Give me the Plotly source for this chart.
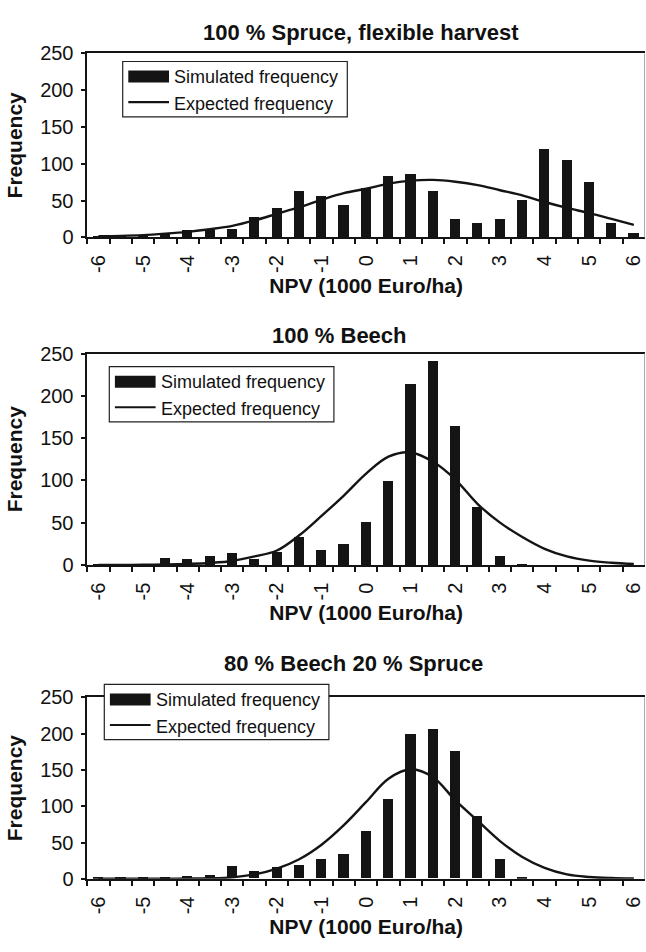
import plotly.graph_objects as go

# ---------------- data ----------------
npv = [-6, -5.5, -5, -4.5, -4, -3.5, -3, -2.5, -2, -1.5, -1, -0.5, 0,
       0.5, 1, 1.5, 2, 2.5, 3, 3.5, 4, 4.5, 5, 5.5, 6]
tick_vals = [-6, -5, -4, -3, -2, -1, 0, 1, 2, 3, 4, 5, 6]
tick_text = ["-6", "-5", "-4", "-3", "-2", "-1", "0", "1", "2", "3", "4", "5", "6"]
y_ticks = [0, 50, 100, 150, 200, 250]

titles = ["100 % Spruce, flexible harvest", "100 % Beech", "80 % Beech 20 % Spruce"]

sim_spruce = [2, 1, 1, 4, 9, 10, 11, 27, 40, 62, 56, 44, 66,
              83, 85, 63, 25, 19, 24, 51, 119, 105, 75, 19, 6]
exp_spruce = [1.5, 2, 3, 5, 7.5, 11, 15.5, 23, 32, 41, 51, 60, 66,
              73, 77, 78, 75.5, 71, 64, 57, 48, 40, 33, 25, 17]

sim_beech = [1, 2, 2, 9, 8, 11, 14, 8, 15.5, 34, 18, 25, 51.5,
             100, 214, 242, 165, 69, 11, 1, 0, 0, 0, 0, 0]
exp_beech = [0, 0, 0.2, 0.5, 1.2, 2.3, 4.6, 10, 17, 35, 58, 82, 108,
             128, 133, 122, 101, 72, 50, 33, 19, 10, 5, 2.5, 1]

sim_mix = [0.5, 1, 1, 1, 3.5, 5, 17.5, 10, 15, 19, 26, 33.5, 65.5,
           109, 199.5, 206, 176, 86.5, 27, 1, 0, 0, 0, 0, 0]
exp_mix = [0, 0, 0.1, 0.2, 0.3, 0.7, 2, 6, 14, 27, 47, 74, 106,
           138, 151, 140, 108, 80, 52, 30, 15, 6, 2.5, 1, 0.3]

sims = [sim_spruce, sim_beech, sim_mix]
exps = [exp_spruce, exp_beech, exp_mix]

# ---------------- layout geometry (pixels) ----------------
W, H = 646, 952
LEFT, RIGHT = 87.3, 645.0
panels = [
    dict(top=43.3, bottom=231.7, tx=361.4, ty=21.7, lx=122.7, ly=51.7),
    dict(top=350.7, bottom=567.0, tx=339.4, ty=331.7, lx=109.3, ly=364.0),
    dict(top=702.7, bottom=888.3, tx=353.0, ty=668.0, lx=104.3, ly=689.3),
]
LEG_W, LEG_H = 224.6, 56.6

def px(x):
    return x / W

def py(y):
    return 1 - y / H

FONT = "Liberation Sans, Arial, sans-serif"
INK = "#141414"
TXT = "#111111"
edges = [v - 0.25 for v in npv]
xr = [npv[0] - 0.25, npv[-1] + 0.25]

fig = go.Figure()
shapes = []
annotations = []
layout_axes = {}

for i in range(3):
    n = i + 1
    xs = "x" if n == 1 else f"x{n}"
    ys = "y" if n == 1 else f"y{n}"
    xkey = "xaxis" if n == 1 else f"xaxis{n}"
    ykey = "yaxis" if n == 1 else f"yaxis{n}"
    p = panels[i]

    fig.add_trace(go.Bar(x=npv, y=sims[i], width=0.228, name="Simulated frequency",
                         marker=dict(color=INK, line=dict(width=0)),
                         xaxis=xs, yaxis=ys, showlegend=False))
    fig.add_trace(go.Scatter(x=npv, y=exps[i], mode="lines", name="Expected frequency",
                             line=dict(color=INK, width=2.4, shape="spline", smoothing=1),
                             xaxis=xs, yaxis=ys, showlegend=False))

    dom_x = [px(LEFT), px(RIGHT)]
    dom_y = [py(p["bottom"]), py(p["top"])]

    layout_axes[xkey] = dict(
        domain=dom_x, anchor=ys, range=xr, tickmode="array",
        tickvals=tick_vals, ticktext=tick_text, ticks="", tickangle=-90,
        ticklabelstandoff=8,
        tickfont=dict(family=FONT, size=20, color=TXT),
        showline=True, linecolor=INK, linewidth=1.6, mirror=True,
        showgrid=False, zeroline=False, fixedrange=True,
        minor=dict(tickmode="array", tickvals=edges, ticks="outside",
                   ticklen=5, tickwidth=1.5, tickcolor=INK, showgrid=False),
        title=dict(text="NPV (1000 Euro/ha)", standoff=6,
                   font=dict(family=FONT, size=21, color=TXT, weight="bold")),
    )
    layout_axes[ykey] = dict(
        domain=dom_y, anchor=xs, range=[0, 250], tickmode="array",
        tickvals=y_ticks, ticks="outside", ticklen=5, tickwidth=1.5, tickcolor=INK,
        ticklabelstandoff=3,
        tickfont=dict(family=FONT, size=20, color=TXT),
        showline=True, linecolor=INK, linewidth=1.6,
        showgrid=False, zeroline=False, fixedrange=True,
        title=dict(text="Frequency", standoff=12,
                   font=dict(family=FONT, size=21, color=TXT, weight="bold")),
    )
    # overlay axes supplying the inner half of the crossing tick marks
    ox = f"xaxis{n + 3}"
    oy = f"yaxis{n + 3}"
    layout_axes[ox] = dict(
        overlaying=xs, anchor=ys, side="bottom", range=xr, tickmode="array",
        tickvals=edges, ticks="inside", ticklen=5, tickwidth=1.5, tickcolor=INK,
        showticklabels=False, showline=False, showgrid=False, zeroline=False,
        fixedrange=True,
    )
    layout_axes[oy] = dict(
        overlaying=ys, anchor=xs, side="left", range=[0, 250], tickmode="array",
        tickvals=y_ticks, ticks="inside", ticklen=6, tickwidth=1.5, tickcolor=INK,
        showticklabels=False, showline=False, showgrid=False, zeroline=False,
        fixedrange=True,
    )

    # right-hand frame edge (light grey)
    shapes.append(dict(type="line", xref="paper", yref="paper",
                       x0=px(RIGHT - 0.5), x1=px(RIGHT - 0.5), y0=dom_y[0], y1=dom_y[1],
                       line=dict(color="#b0b0b0", width=1), layer="above"))

    # panel title
    annotations.append(dict(text=titles[i], xref="paper", yref="paper",
                            x=px(p["tx"]), y=py(p["ty"]), xanchor="center", yanchor="middle",
                            showarrow=False,
                            font=dict(family=FONT, size=22, color=TXT, weight="bold")))

    # legend box
    lx, ly = p["lx"], p["ly"]
    shapes.append(dict(type="rect", xref="paper", yref="paper",
                       x0=px(lx), x1=px(lx + LEG_W), y0=py(ly + LEG_H), y1=py(ly),
                       fillcolor="white", line=dict(color="#222", width=1.2), layer="above"))
    shapes.append(dict(type="rect", xref="paper", yref="paper",
                       x0=px(lx + 5.6), x1=px(lx + 46.3), y0=py(ly + 21.6), y1=py(ly + 9.3),
                       fillcolor=INK, line=dict(width=0), layer="above"))
    shapes.append(dict(type="line", xref="paper", yref="paper",
                       x0=px(lx + 5.6), x1=px(lx + 46.3), y0=py(ly + 41.6), y1=py(ly + 41.6),
                       line=dict(color=INK, width=2.2), layer="above"))
    annotations.append(dict(text="Simulated frequency", xref="paper", yref="paper",
                            x=px(lx + 49.5), y=py(ly + 16.0), xanchor="left", yanchor="middle",
                            showarrow=False, font=dict(family=FONT, size=18, color=TXT)))
    annotations.append(dict(text="Expected frequency", xref="paper", yref="paper",
                            x=px(lx + 49.5), y=py(ly + 43.3), xanchor="left", yanchor="middle",
                            showarrow=False, font=dict(family=FONT, size=18, color=TXT)))

fig.update_layout(
    width=W, height=H,
    margin=dict(l=0, r=0, t=0, b=0),
    paper_bgcolor="white", plot_bgcolor="white",
    showlegend=False, bargap=0,
    shapes=shapes, annotations=annotations,
    font=dict(family=FONT, color=TXT),
    **layout_axes,
)

fig.write_html("out.html")
